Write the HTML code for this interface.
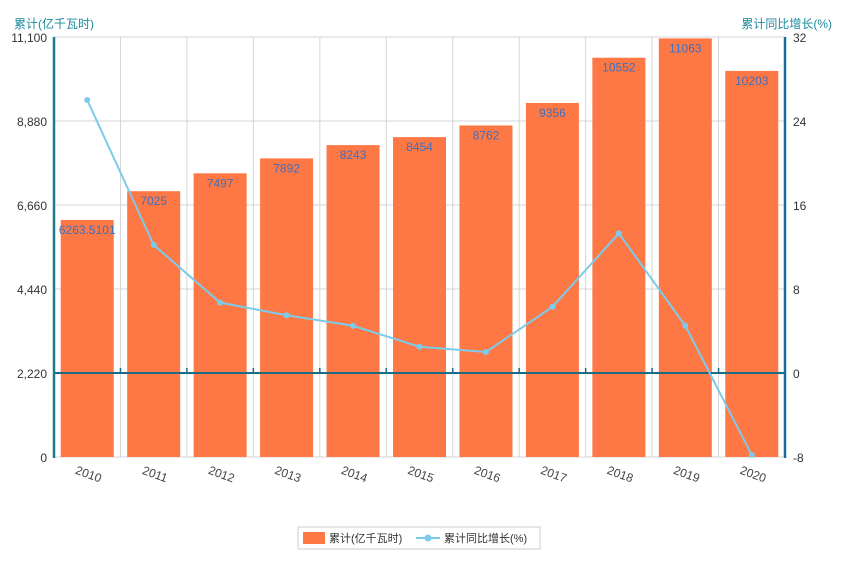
<!DOCTYPE html>
<html><head><meta charset="utf-8"><style>
body{margin:0;background:#fff;font-family:"Liberation Sans","Noto Sans CJK SC",sans-serif;}
svg text{font-family:"Liberation Sans","Noto Sans CJK SC",sans-serif;}
</style></head><body>
<svg id="chart" width="844" height="569" xmlns="http://www.w3.org/2000/svg"></svg>
<script>
const years=["2010","2011","2012","2013","2014","2015","2016","2017","2018","2019","2020"];
const cumulative=[6263.5101,7025,7497,7892,8243,8454,8762,9356,10552,11063,10203];
const cumLabels=["6263.5101","7025","7497","7892","8243","8454","8762","9356","10552","11063","10203"];
const growth=[26,12.2,6.7,5.5,4.5,2.5,2,6.3,13.3,4.5,-7.8];
const leftTicks=[0,2220,4440,6660,8880,11100];
const leftTickLabels=["0","2,220","4,440","6,660","8,880","11,100"];
const rightTicks=[-8,0,8,16,24,32];

const svg=document.getElementById('chart');
const NS='http://www.w3.org/2000/svg';
const X0=54,X1=785,Y0=37,Y1=457;
const bw=(X1-X0)/years.length;
const yL=v=>Y1-(v/11100)*(Y1-Y0);
const yR=v=>Y1-((v+8)/40)*(Y1-Y0);
const xc=i=>X0+bw*(i+0.5);
function mk(tag,attrs,parent){const e=document.createElementNS(NS,tag);for(const k in attrs)e.setAttribute(k,attrs[k]);(parent||svg).appendChild(e);return e;}

// gridlines
leftTicks.forEach(t=>{
 const l=mk('line',{x1:X0,x2:X1,y1:yL(t),y2:yL(t),stroke:'#d4d4d8','stroke-width':1});
 
 
});
for(let i=0;i<=years.length;i++){
 const x=X0+bw*i;
 const l=mk('line',{x1:x,x2:x,y1:Y0,y2:Y1,stroke:'#d4d4d8','stroke-width':1});
 
 
}
// bars
cumulative.forEach((v,i)=>{
 const r=mk('rect',{x:xc(i)-26.5,y:yL(v),width:53,height:Y1-yL(v),fill:'#fe7845'});
 
 
 const t=mk('text',{x:xc(i),y:yL(v)+14,'text-anchor':'middle','font-size':12,fill:'#3f6fbd'});
 t.textContent=cumLabels[i];
 
 
});
// right-axis zero line
const z=mk('line',{x1:X0,x2:X1,y1:yR(0),y2:yR(0),stroke:'#1b6b85','stroke-width':2});


for(let i=0;i<=years.length;i++){
 const tk=mk('line',{x1:X0+bw*i,x2:X0+bw*i,y1:yR(0)-5,y2:yR(0),stroke:'#1b6b85','stroke-width':1.5});
 
 
}
// axes
const la=mk('line',{x1:X0,x2:X0,y1:Y0,y2:Y1+1,stroke:'#1b7d8c','stroke-width':2.5});


const ra=mk('line',{x1:X1,x2:X1,y1:Y0,y2:Y1+1,stroke:'#1b6b9c','stroke-width':2.5});


// line
let d='';
growth.forEach((v,i)=>{d+=(i?'L':'M')+xc(i)+','+yR(v);});
const p=mk('path',{d:d,fill:'none',stroke:'#7ccbea','stroke-width':2});


growth.forEach((v,i)=>{
 const c=mk('circle',{cx:xc(i),cy:yR(v),r:3,fill:'#7ccbea'});
 
 
});
// tick labels
leftTicks.forEach((t,i)=>{
 const e=mk('text',{x:47,y:yL(t)+5,'text-anchor':'end','font-size':12,fill:'#333'});
 e.textContent=leftTickLabels[i];
 
 
});
rightTicks.forEach(t=>{
 const e=mk('text',{x:793,y:yR(t)+5,'font-size':12,fill:'#333'});
 e.textContent=String(t);
 
 
});
years.forEach((y,i)=>{
 const e=mk('text',{x:xc(i),y:478,'text-anchor':'middle','font-size':12,fill:'#444',transform:'rotate(20 '+xc(i)+' 478)'});
 e.textContent=y;
 
 
});
// titles
const lt=mk('text',{x:14,y:28,'font-size':12,fill:'#1b8a9c'});
lt.textContent='累计(亿千瓦时)';


const rt=mk('text',{x:832,y:28,'text-anchor':'end','font-size':12,fill:'#1b8a9c'});
rt.textContent='累计同比增长(%)';


// legend
const lg=mk('g',{});


const lb=mk('rect',{x:298,y:527,width:242,height:22,fill:'#fff',stroke:'#ccc'},lg);


const l1=mk('g',{},lg);


mk('rect',{x:303,y:532,width:22,height:12,fill:'#fe7845'},l1);
const t1=mk('text',{x:329,y:542,'font-size':11,fill:'#333'},l1);t1.textContent='累计(亿千瓦时)';
const l2=mk('g',{},lg);


mk('line',{x1:416,x2:440,y1:538,y2:538,stroke:'#7ccbea','stroke-width':2},l2);
mk('circle',{cx:428,cy:538,r:3.5,fill:'#7ccbea'},l2);
const t2=mk('text',{x:444,y:542,'font-size':11,fill:'#333'},l2);t2.textContent='累计同比增长(%)';
</script>
</body></html>
